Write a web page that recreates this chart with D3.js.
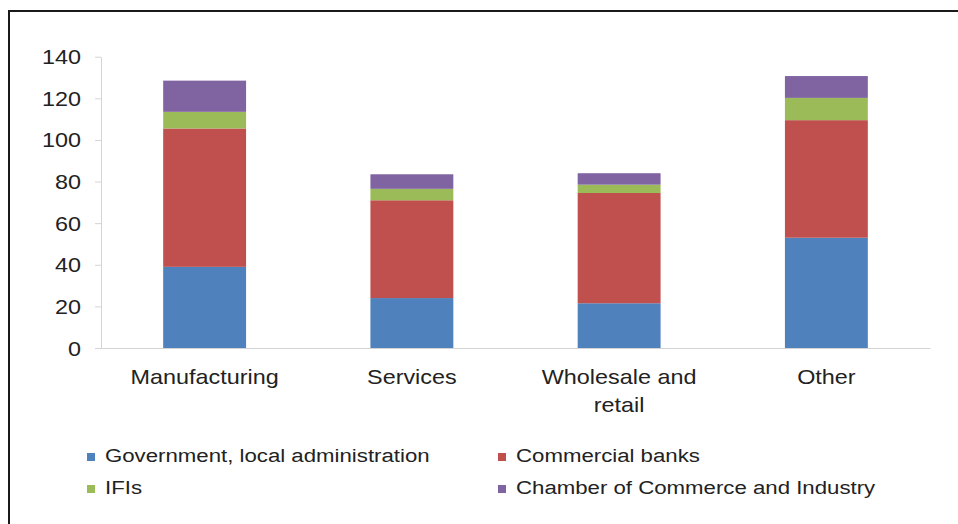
<!DOCTYPE html>
<html><head><meta charset="utf-8">
<script src="https://cdn.jsdelivr.net/npm/d3@7"></script>
<style>
html,body{margin:0;padding:0;background:#fff;}
svg{display:block;}
text{font-family:"Liberation Sans",Arial,sans-serif;fill:#222;}
</style></head>
<body>
<svg id="c" width="958" height="524"></svg>
<script>
const categories = [["Manufacturing"], ["Services"], ["Wholesale and", "retail"], ["Other"]];
const seriesNames = ["Government, local administration", "Commercial banks", "IFIs", "Chamber of Commerce and Industry"];
const govValues = [39, 24, 21.5, 53];
const bankValues = [66.5, 47, 53, 56.5];
const ifiValues = [8, 5.5, 4, 10.7];
const chamberValues = [15, 7, 5.5, 10.5];
const yTicks = [0, 20, 40, 60, 80, 100, 120, 140];
const colors = ["#4f81bd", "#c0504d", "#9bbb59", "#8064a2"];

const SX = 1.17;
const svg = d3.select("#c");

// frame
svg.append("path").attr("d", "M9,524V11H958").attr("fill", "none").attr("stroke", "#1a1a1a").attr("stroke-width", 2);

const keys = categories.map(c => c.join(" "));
const rows = keys.map((k, i) => ({key: k, lines: categories[i], s0: govValues[i], s1: bankValues[i], s2: ifiValues[i], s3: chamberValues[i]}));
const stack = d3.stack().keys(["s0", "s1", "s2", "s3"])(rows);

const x = d3.scaleBand().domain(keys).range([101, 930]).paddingInner(0.6).paddingOuter(0.3);
const y = d3.scaleLinear().domain([0, 140]).range([348, 56.7]);

// y axis
const yAxis = svg.append("g").attr("transform", "translate(101,0)")
  .call(d3.axisLeft(y).tickValues(yTicks).tickSize(6).tickSizeOuter(0).tickPadding(20));
yAxis.select(".domain").attr("stroke", "#d4d4d4");
yAxis.selectAll(".tick line").attr("stroke", "#d4d4d4");
yAxis.selectAll(".tick text")
  .attr("x", null).attr("dy", null)
  .attr("transform", "translate(-20,7) scale(" + SX + ",1)")
  .style("font-size", "20px").attr("fill", "#222").style("font-family", '"Liberation Sans",Arial,sans-serif');

// bars
svg.append("g").selectAll("g").data(stack).join("g")
  .attr("fill", (d, i) => colors[i])
  .selectAll("rect").data(d => d).join("rect")
  .attr("x", d => x(d.data.key))
  .attr("width", x.bandwidth())
  .attr("y", d => y(d[1]))
  .attr("height", d => y(d[0]) - y(d[1]));

// x axis
const xAxis = svg.append("g").attr("transform", "translate(0,348)")
  .call(d3.axisBottom(x).tickSize(0).tickSizeOuter(0).tickFormat(() => ""));
xAxis.select(".domain").attr("stroke", "#d4d4d4");
xAxis.selectAll(".tick").each(function(d, i) {
  const t = d3.select(this).select("text");
  t.text(null).attr("y", null).attr("dy", null)
    .attr("transform", "translate(0,36) scale(" + SX + ",1)")
    .attr("text-anchor", "middle").style("font-size", "20px").attr("fill", "#222")
    .style("font-family", '"Liberation Sans",Arial,sans-serif');
  categories[i].forEach((ln, j) => {
    t.append("tspan").attr("x", 0).attr("y", j * 28).text(ln);
  });
});

// legend
const legPos = [[87, 462], [498, 462], [87, 494], [498, 494]];
const leg = svg.append("g").selectAll("g").data(seriesNames).join("g")
  .attr("transform", (d, i) => "translate(" + legPos[i][0] + "," + legPos[i][1] + ")");
leg.append("rect").attr("x", 0).attr("y", -9).attr("width", 8).attr("height", 8).attr("fill", (d, i) => colors[i]);
leg.append("text").attr("transform", "translate(18,0) scale(" + SX + ",1)")
  .style("font-size", "19px").text(d => d);
</script>
</body></html>
